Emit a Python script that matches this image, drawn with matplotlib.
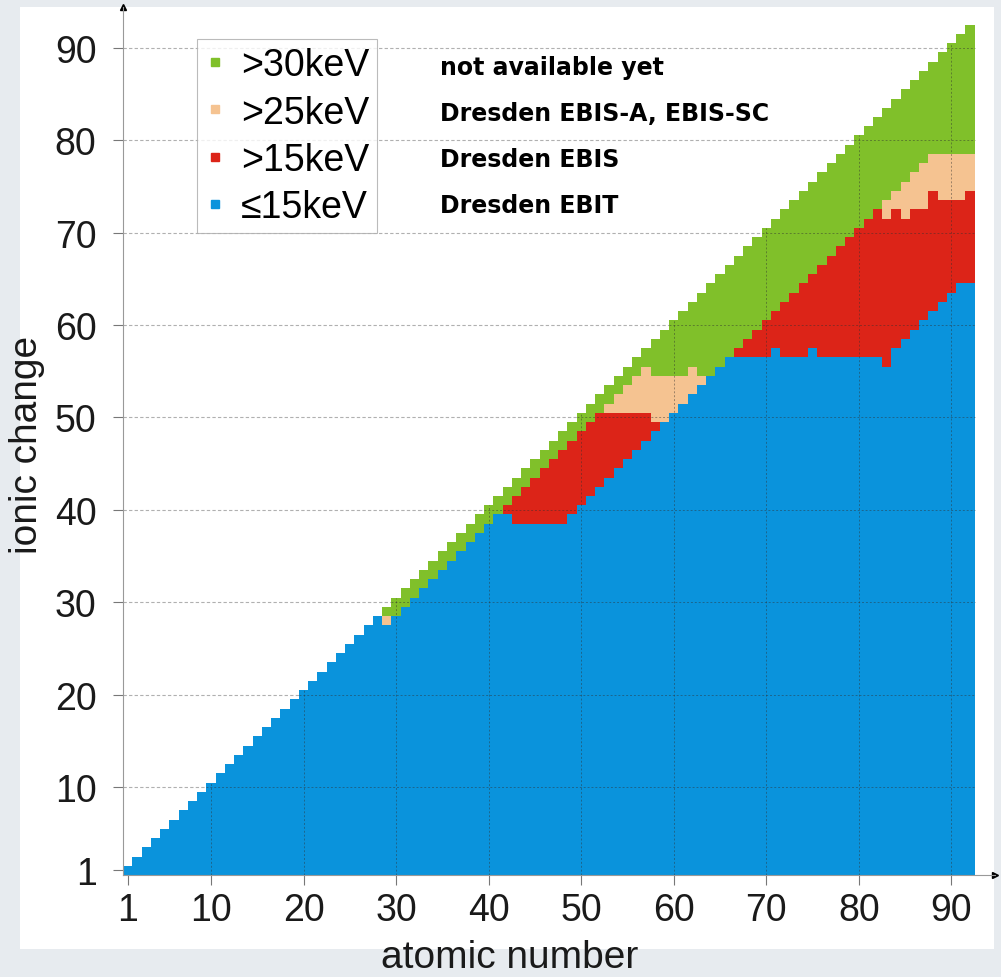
import numpy as np
import matplotlib
matplotlib.use("Agg")
import matplotlib.pyplot as plt
from matplotlib.colors import ListedColormap
from matplotlib.lines import Line2D
from matplotlib.patches import Rectangle

plt.rcParams['font.family'] = ['Liberation Sans', 'DejaVu Sans']

# atomic numbers 1..92
atomic_number = list(range(1, 93))

# highest charge state reachable in each energy class (per atomic number)
blue_top = [1, 2, 3, 4, 5, 6, 7, 8, 9, 10,
            11, 12, 13, 14, 15, 16, 17, 18, 19, 20,
            21, 22, 23, 24, 25, 26, 27, 28, 27, 28,
            29, 30, 31, 32, 33, 34, 35, 36, 37, 38,
            39, 39, 38, 38, 38, 38, 38, 38, 39, 40,
            41, 42, 43, 44, 45, 46, 47, 48, 49, 50,
            51, 52, 53, 54, 55, 56, 56, 56, 56, 56,
            57, 56, 56, 56, 57, 56, 56, 56, 56, 56,
            56, 56, 55, 57, 58, 59, 60, 61, 62, 63,
            64, 64]
red_top = [1, 2, 3, 4, 5, 6, 7, 8, 9, 10,
           11, 12, 13, 14, 15, 16, 17, 18, 19, 20,
           21, 22, 23, 24, 25, 26, 27, 28, 27, 28,
           29, 30, 31, 32, 33, 34, 35, 36, 37, 38,
           39, 40, 41, 42, 43, 44, 45, 46, 47, 48,
           49, 50, 50, 50, 50, 50, 50, 49, 49, 50,
           51, 52, 53, 54, 55, 56, 57, 58, 59, 60,
           61, 62, 63, 64, 65, 66, 67, 68, 69, 70,
           71, 72, 71, 72, 71, 72, 72, 74, 73, 73,
           73, 74]
tan_top = [1, 2, 3, 4, 5, 6, 7, 8, 9, 10,
           11, 12, 13, 14, 15, 16, 17, 18, 19, 20,
           21, 22, 23, 24, 25, 26, 27, 28, 28, 28,
           29, 30, 31, 32, 33, 34, 35, 36, 37, 38,
           39, 40, 41, 42, 43, 44, 45, 46, 47, 48,
           49, 50, 51, 52, 53, 54, 55, 54, 54, 54,
           54, 55, 54, 54, 55, 56, 57, 58, 59, 60,
           61, 62, 63, 64, 65, 66, 67, 68, 69, 70,
           71, 72, 73, 74, 75, 76, 77, 78, 78, 78,
           78, 78]

labels = ['>30keV', '>25keV', '>15keV', '\u226415keV']
sources = ['not available yet', 'Dresden EBIS-A, EBIS-SC', 'Dresden EBIS', 'Dresden EBIT']
colors = ['#0a93dc', '#dc2418', '#f5c391', '#80c02a']  # blue, red, tan, green
xticks = [1, 10, 20, 30, 40, 50, 60, 70, 80, 90]
yticks = [1, 10, 20, 30, 40, 50, 60, 70, 80, 90]

# build grid: 0 blue, 1 red, 2 tan, 3 green, nan = impossible charge
n = len(atomic_number)
grid = np.full((n, n), np.nan)
for i, z in enumerate(atomic_number):
    for q in range(1, z + 1):
        if q <= blue_top[i]:
            grid[q - 1, i] = 0
        elif q <= red_top[i]:
            grid[q - 1, i] = 1
        elif q <= tan_top[i]:
            grid[q - 1, i] = 2
        else:
            grid[q - 1, i] = 3

fig = plt.figure(figsize=(10.01, 9.78), dpi=100)
fig.patch.set_facecolor('#e7ebef')
fig.patches.append(Rectangle((20 / 1001, 1 - 950 / 978), 974 / 1001, 942 / 978,
                             transform=fig.transFigure, facecolor='white',
                             edgecolor='none', zorder=-10))

ax = fig.add_axes([123 / 1001, 1 - 876 / 978, 872 / 1001, 868 / 978])
ax.set_facecolor('none')

edges = np.arange(0.5, n + 1, 1)
ax.pcolormesh(edges, edges, grid, cmap=ListedColormap(colors), vmin=-0.5, vmax=3.5,
              zorder=2)

# grid lines: light in the empty area, darker over the coloured cells
for yt in yticks[1:]:
    ax.hlines(yt, 0.5, yt - 0.5, colors='#b0b0b0', linestyles=(0, (3, 2)),
              linewidth=0.8, zorder=1)
    ax.hlines(yt, yt - 0.5, n + 0.5, colors='#303030', linestyles=(0, (2, 2)),
              linewidth=0.7, alpha=0.45, zorder=3)
for xt in xticks[1:]:
    ax.vlines(xt, 0.5, xt + 0.5, colors='#303030', linestyles=(0, (2, 2)),
              linewidth=0.7, alpha=0.45, zorder=3)

ax.set_xlim(0.5, 94.7)
ax.set_ylim(0.5, 94.4)
for s in ['top', 'right']:
    ax.spines[s].set_visible(False)
for s in ['left', 'bottom']:
    ax.spines[s].set_color('#999999')
    ax.spines[s].set_linewidth(0.8)
ax.plot(1, 0, '>', color='black', markersize=5, transform=ax.transAxes, clip_on=False)
ax.plot(0, 1, '^', color='black', markersize=5, transform=ax.transAxes, clip_on=False)

ax.set_xticks(xticks)
ax.set_yticks(yticks)
ax.tick_params(axis='both', colors='#777777', labelcolor='#1a1a1a', labelsize=27,
               length=7, width=0.8)
ax.tick_params(axis='x', pad=5)
ax.tick_params(axis='y', pad=12)
ax.set_xlabel('atomic number', fontsize=28, color='#1a1a1a')
ax.set_ylabel('ionic change', fontsize=28, color='#1a1a1a')
# label anchors: top edge of the x label, right edge of the y label
ax.xaxis.set_label_coords((510 - 123) / 872, (876 - 940) / 868)
ax.yaxis.set_label_coords((45 - 123) / 872, (876 - 445) / 868)

handles = [Line2D([], [], linestyle='none', marker='s', markersize=6,
                  color=colors[3 - k]) for k in range(4)]
leg = ax.legend(handles, labels, loc='upper left', bbox_to_anchor=(197 / 1001, 1 - 40 / 978),
                bbox_transform=fig.transFigure, fontsize=27, frameon=True, fancybox=False,
                handlelength=0.5, handletextpad=0.45, labelspacing=0.3, borderpad=0.22,
                borderaxespad=0)
leg.get_frame().set_edgecolor('#aaaaaa')
leg.get_frame().set_linewidth(0.8)
leg.set_zorder(5)

for k, txt in enumerate(sources):
    fig.text(440 / 1001, 1 - (68 + k * 46) / 978, txt, fontsize=17, fontweight='bold',
             family='DejaVu Sans', va='center', ha='left', color='black')

fig.savefig('out.png', dpi=100, facecolor=fig.get_facecolor())
